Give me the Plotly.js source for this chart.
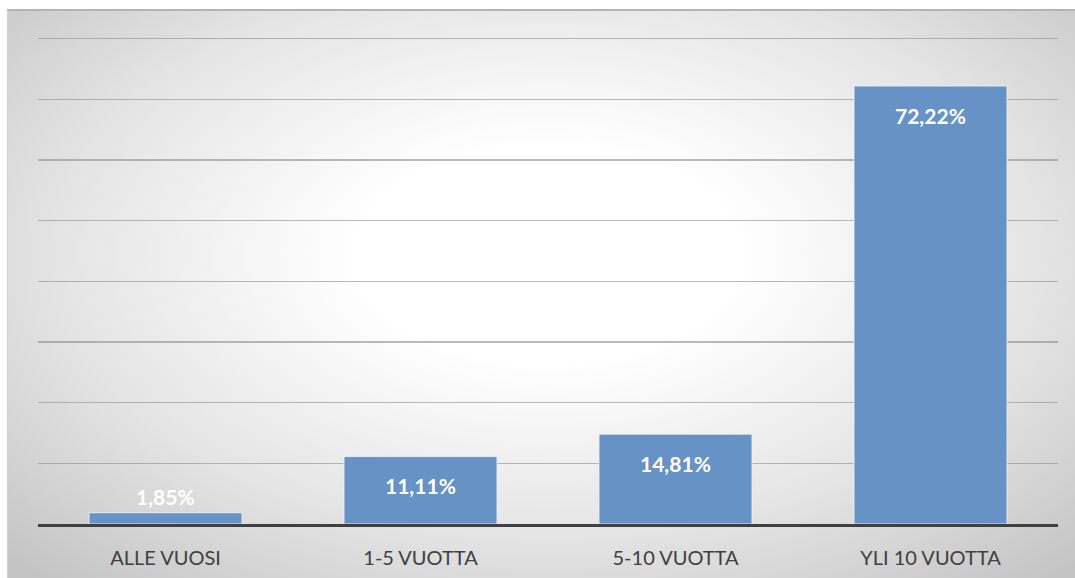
<!DOCTYPE html>
<html>
<head>
<meta charset="utf-8">
<script src="https://cdn.plot.ly/plotly-3.0.1.min.js"></script>
<style>
  html, body { margin:0; padding:0; background:#ffffff; width:1075px; height:578px; overflow:hidden; }
  #frame { position:absolute; left:7px; top:9px; width:1080px; height:580px;
    border-top:2px solid #b4b4b4; border-left:1px solid #d0d0d0;
    background: radial-gradient(ellipse 70% 75% at 50% 42%, #ffffff 0%, #ffffff 25%, #e4e4e4 65%, #c4c4c4 100%); }
  #chart { position:absolute; left:0; top:0; width:1075px; height:578px; }
</style>
</head>
<body>
<div id="frame"></div>
<div id="chart"></div>
<script>
const categories = ["ALLE VUOSI", "1-5 VUOTTA", "5-10 VUOTTA", "YLI 10 VUOTTA"];
const values = [1.85, 11.11, 14.81, 72.22];
const yTicks = [0, 10, 20, 30, 40, 50, 60, 70, 80];

const labelText = values.map(v => v.toFixed(2).replace('.', ',') + '%');

const trace = {
  type: 'bar',
  x: categories,
  y: values,
  marker: { color: 'rgb(102,146,198)', line: { color: 'rgba(235,240,248,0.9)', width: 1 } },
  hoverinfo: 'none'
};

const annotations = values.map((v, i) => ({
  x: categories[i],
  y: v,
  xref: 'x', yref: 'y',
  text: '<b>' + labelText[i] + '</b>',
  showarrow: false,
  yanchor: 'middle',
  yshift: v < 5 ? 16 : -29,
  font: { family: 'Lato, "Open Sans", sans-serif', size: 21, color: '#ffffff' }
}));

const layout = {
  width: 1075, height: 578,
  margin: { l: 38, r: 17, t: 37, b: 54, pad: 0 },
  paper_bgcolor: 'rgba(0,0,0,0)',
  plot_bgcolor: 'rgba(0,0,0,0)',
  bargap: 0.4,
  showlegend: false,
  xaxis: {
    type: 'category',
    showline: true, linecolor: '#404040', linewidth: 3,
    showgrid: false, ticks: '',
    ticklabelstandoff: 14,
    tickfont: { family: 'Lato, "Open Sans", sans-serif', size: 20, color: '#404040' }
  },
  yaxis: {
    range: [0, 80.3],
    tickvals: yTicks,
    showticklabels: false,
    showgrid: true, gridcolor: 'rgba(140,140,140,0.6)', gridwidth: 1.3,
    zeroline: false, showline: false, ticks: ''
  },
  annotations: annotations
};

Plotly.newPlot('chart', [trace], layout, { displayModeBar: false, staticPlot: true });
</script>
</body>
</html>
